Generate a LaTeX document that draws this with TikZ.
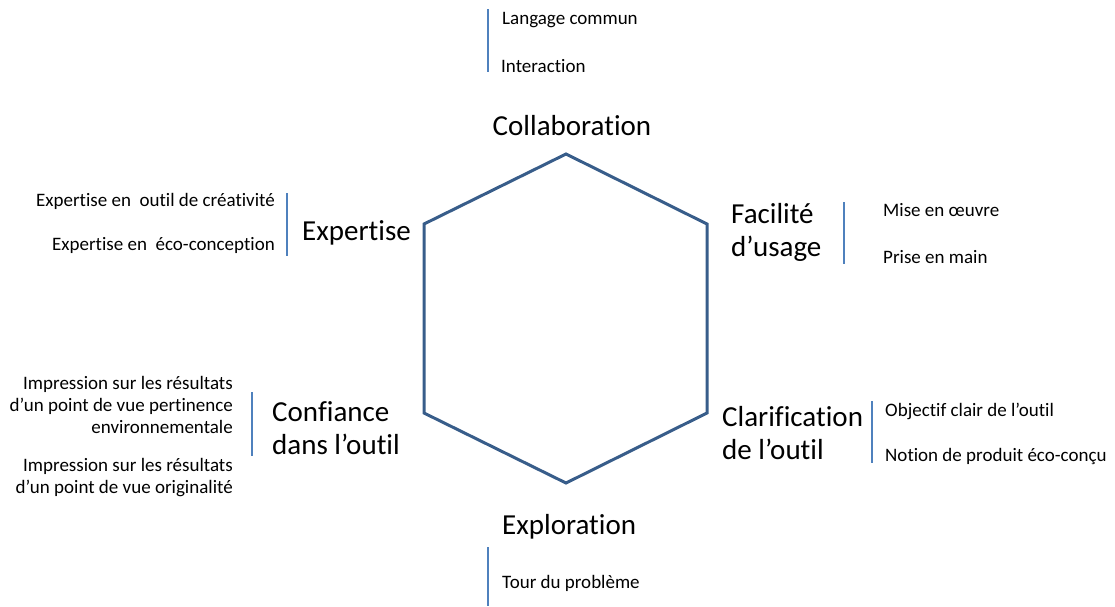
\documentclass[tikz,border=0pt]{standalone}
\usepackage{fontspec}
\setmainfont[Ligatures=NoCommon]{Carlito}
\usetikzlibrary{positioning}
\definecolor{hexblue}{RGB}{56,93,138}
\definecolor{sepblue}{RGB}{79,129,189}
\tikzset{
  dimlabel/.style={font=\fontsize{29}{33}\selectfont, inner sep=0pt, align=left},
  itemtext/.style={font=\fontsize{19}{22}\selectfont, inner sep=0pt},
  hexline/.style={draw=hexblue, line width=3pt, line join=miter},
  sepline/.style={draw=sepblue, line width=1.4pt}
}

\begin{document}
\begin{tikzpicture}[x=1pt, y=-1pt]
  \useasboundingbox (0,0) rectangle (1115,606);

  % Hexagon corners
  \coordinate (htop) at (566,154);
  \coordinate (hur) at (707,224);
  \coordinate (hlr) at (707,413);
  \coordinate (hbot) at (566,483);
  \coordinate (hll) at (424,413);
  \coordinate (hul) at (424,224);
  \draw[hexline] (htop) -- (hur) -- (hlr) -- (hbot) -- (hll) -- (hul) -- cycle;

  % Dimension labels (base = last line)
  \node[dimlabel, anchor=base] (collab) at (572,135) {Collaboration};
  \node[dimlabel, anchor=base west] (expert) at (302,240) {Expertise};
  \node[dimlabel, anchor=base west] (facil) at (731,256) {Facilité\\d’usage};
  \node[dimlabel, anchor=base west] (confi) at (272,454) {Confiance\\dans l’outil};
  \node[dimlabel, anchor=base west] (clari) at (722,459) {Clarification\\de l’outil};
  \node[dimlabel, anchor=base west] (explo) at (502,534) {Exploration};

  % Separators
  \coordinate (s1a) at (488,9);   \coordinate (s1b) at (488,72);
  \coordinate (s2a) at (287,193); \coordinate (s2b) at (287,256);
  \coordinate (s3a) at (844,202); \coordinate (s3b) at (844,264);
  \coordinate (s4a) at (252,392); \coordinate (s4b) at (252,456);
  \coordinate (s5a) at (872,401); \coordinate (s5b) at (872,463);
  \coordinate (s6a) at (488,547); \coordinate (s6b) at (488,606);
  \foreach \i in {1,...,6}
    \draw[sepline] (s\i a) -- (s\i b);

  % Collaboration items
  \node[itemtext, anchor=base west] (c1) at (502,24) {Langage commun};
  \node[itemtext, anchor=base west] (c2) at (501,72) {Interaction};

  % Expertise items
  \node[itemtext, anchor=base east] (e1) at (275,206) {Expertise en\ \ outil de créativité};
  \node[itemtext, anchor=base east] (e2) at (275,250) {Expertise en\ \ éco-conception};

  % Facilite items
  \node[itemtext, anchor=base west] (f1) at (883,216) {Mise en œuvre};
  \node[itemtext, anchor=base west] (f2) at (883,263) {Prise en main};

  % Confiance items
  \node[itemtext, anchor=base east, align=right] (t1) at (233,433)
    {Impression sur les résultats\\d’un point de vue pertinence\\environnementale};
  \node[itemtext, anchor=base east, align=right] (t2) at (233,493)
    {Impression sur les résultats\\d’un point de vue originalité};

  % Clarification items
  \node[itemtext, anchor=base west] (k1) at (885,416) {Objectif clair de l’outil};
  \node[itemtext, anchor=base west] (k2) at (885,461) {Notion de produit éco-conçu};

  % Exploration items
  \node[itemtext, anchor=base west] (x1) at (502,588) {Tour du problème};
\end{tikzpicture}
\end{document}
